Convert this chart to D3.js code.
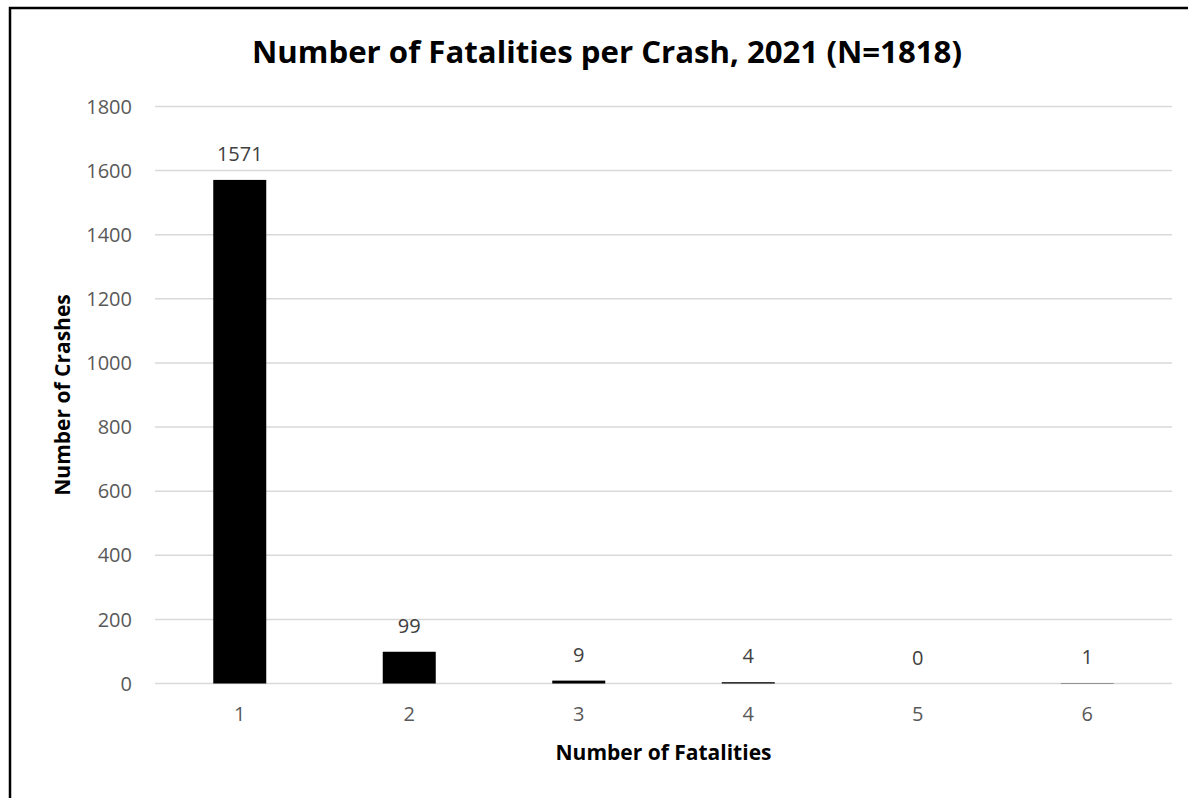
<!DOCTYPE html>
<html><head><meta charset="utf-8">
<script src="https://cdn.jsdelivr.net/npm/d3@7"></script>
<style>
body{margin:0;background:#fff;}
svg{display:block;font-family:"Open Sans",sans-serif;}
</style></head>
<body>
<svg id="chart" width="1188" height="798"></svg>
<script>
const categories = ["1","2","3","4","5","6"];
const crashes = [1571, 99, 9, 4, 0, 1];
const yTicks = [0,200,400,600,800,1000,1200,1400,1600,1800];
const titleText = "Number of Fatalities per Crash, 2021 (N=1818)";
const xTitle = "Number of Fatalities";
const yTitle = "Number of Crashes";

const svg = d3.select("#chart");
const W = 1188, H = 798;
const plot = {left:155, right:1172, top:106.5, bottom:683.5};

svg.append("rect").attr("x",0).attr("y",0).attr("width",W).attr("height",H).attr("fill","#fff");
// outer border (top & left visible)
svg.append("path").attr("d",`M10,${H+5} L10,8 L${W+5},8`).attr("fill","none").attr("stroke","#000").attr("stroke-width",2.5);

const x = d3.scaleBand().domain(categories).range([plot.left, plot.right]).padding(0);
const y = d3.scaleLinear().domain([0,1800]).range([plot.bottom, plot.top]);

// gridlines
svg.append("g").selectAll("line").data(yTicks).join("line")
  .attr("x1",plot.left).attr("x2",plot.right)
  .attr("y1",d=>y(d)).attr("y2",d=>y(d))
  .attr("stroke","#d9d9d9").attr("stroke-width",1.5);

// y tick labels
svg.append("g").selectAll("text").data(yTicks).join("text")
  .attr("x",132).attr("y",d=>y(d)).attr("dy","0.36em")
  .attr("text-anchor","end").attr("fill","#595959").attr("font-size",20)
  .text(d=>d);

// x tick labels
svg.append("g").selectAll("text").data(categories).join("text")
  .attr("x",d=>x(d)+x.bandwidth()/2).attr("y",721)
  .attr("text-anchor","middle").attr("fill","#595959").attr("font-size",20)
  .text(d=>d);

// bars
const bw = 53;
svg.append("g").selectAll("rect").data(crashes).join("rect")
  .attr("x",(d,i)=>x(categories[i])+x.bandwidth()/2-bw/2)
  .attr("width",bw)
  .attr("y",d=>y(d))
  .attr("height",d=>y(0)-y(d))
  .attr("fill","#000");

// data labels
svg.append("g").selectAll("text").data(crashes).join("text")
  .attr("x",(d,i)=>x(categories[i])+x.bandwidth()/2)
  .attr("y",d=>y(d)-19)
  .attr("text-anchor","middle").attr("fill","#404040").attr("font-size",20)
  .text(d=>d);

// titles
svg.append("text").attr("x",607).attr("y",63).attr("text-anchor","middle")
  .attr("font-weight","bold").attr("font-size",30).attr("fill","#000")
  .attr("textLength",710).attr("lengthAdjust","spacingAndGlyphs")
  .text(titleText);

svg.append("text").attr("x",(plot.left+plot.right)/2).attr("y",760).attr("text-anchor","middle")
  .attr("font-weight","bold").attr("font-size",21).attr("fill","#000")
  .text(xTitle);

svg.append("text").attr("transform",`translate(70,${(plot.top+plot.bottom)/2}) rotate(-90)`)
  .attr("text-anchor","middle")
  .attr("font-weight","bold").attr("font-size",21).attr("fill","#000")
  .text(yTitle);
</script>
</body></html>
